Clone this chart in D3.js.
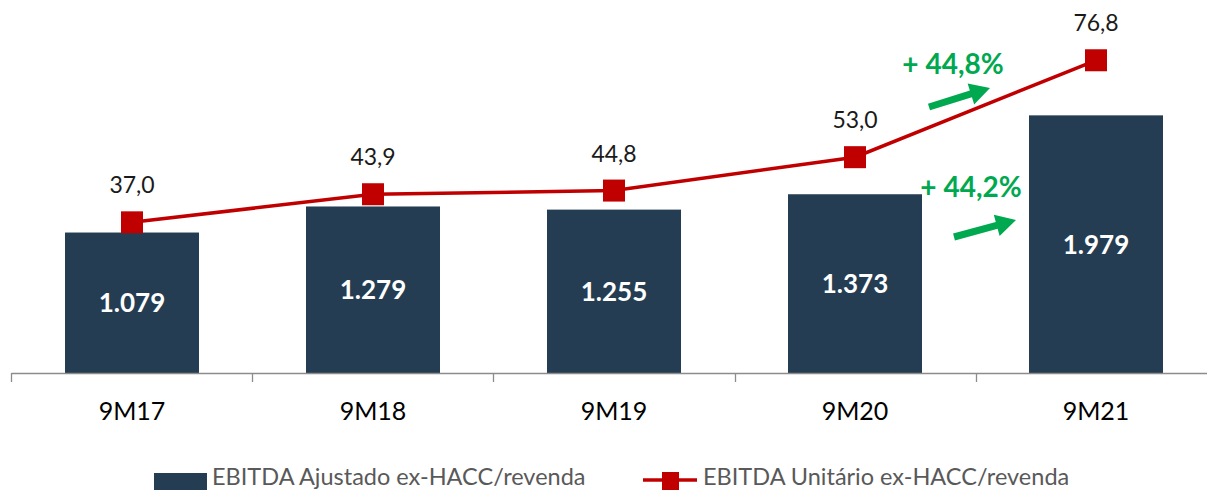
<!DOCTYPE html>
<html>
<head>
<meta charset="utf-8">
<script src="https://cdn.jsdelivr.net/npm/d3@7"></script>
<style>
  html, body { margin: 0; padding: 0; background: #fff; }
  svg { display: block; }
  text { font-family: Lato, "Open Sans", sans-serif; }
</style>
</head>
<body>
<svg id="chart" width="1207" height="490"></svg>
<script>
const categories = ["9M17", "9M18", "9M19", "9M20", "9M21"];
const barValues = [1079, 1279, 1255, 1373, 1979];
const barLabels = ["1.079", "1.279", "1.255", "1.373", "1.979"];
const lineValues = [37.0, 43.9, 44.8, 53.0, 76.8];
const lineLabels = ["37,0", "43,9", "44,8", "53,0", "76,8"];
const seriesNames = ["EBITDA Ajustado ex-HACC/revenda", "EBITDA Unitário ex-HACC/revenda"];
const growthLabels = ["+ 44,8%", "+ 44,2%"];

const barColor = "#243D52";
const lineColor = "#C00000";
const green = "#00A84F";

const svg = d3.select("#chart");
const baseY = 373;

const x = d3.scaleBand().domain(categories).range([11.5, 1216.5])
  .paddingInner(0.444).paddingOuter(0.222);
const yBar = d3.scaleLinear().domain([0, 2865]).range([baseY, 0]);
const yLine = d3.scaleLinear().domain([0, 91.6]).range([baseY, 0]);

// Bars
svg.append("g").selectAll("rect").data(categories).join("rect")
  .attr("x", d => x(d))
  .attr("width", x.bandwidth())
  .attr("y", (d, i) => yBar(barValues[i]))
  .attr("height", (d, i) => baseY - yBar(barValues[i]))
  .attr("fill", barColor);

// Bar labels
svg.append("g").selectAll("text").data(categories).join("text")
  .attr("x", d => x(d) + x.bandwidth() / 2)
  .attr("y", (d, i) => (yBar(barValues[i]) + baseY) / 2)
  .attr("dy", "0.36em")
  .attr("text-anchor", "middle")
  .attr("fill", "#fff")
  .attr("font-weight", "bold")
  .attr("font-size", 26)
  .text((d, i) => barLabels[i]);

// Axis
const axis = d3.axisBottom(x).tickSize(0).tickPadding(29);
const gAxis = svg.append("g").attr("transform", `translate(0,${baseY})`).call(axis);
gAxis.select(".domain").remove();
gAxis.selectAll("text").attr("font-size", 25).attr("fill", "#000")
  .style("font-family", "Lato, 'Open Sans', sans-serif");
gAxis.append("line").attr("x1", 11.5).attr("x2", 1207).attr("y1", 0.5).attr("y2", 0.5)
  .attr("stroke", "#8c8c8c").attr("stroke-width", 1.3);
const step = x.step();
const bounds = categories.map(d => x(d) - (step - x.bandwidth()) / 2);
bounds.push(bounds[bounds.length - 1] + step);
gAxis.selectAll("line.tk").data(bounds).join("line").attr("class", "tk")
  .attr("x1", d => Math.round(d) + 0.5).attr("x2", d => Math.round(d) + 0.5)
  .attr("y1", 0).attr("y2", 9)
  .attr("stroke", "#8c8c8c").attr("stroke-width", 1.3);

// Line
const pts = categories.map((d, i) => [x(d) + x.bandwidth() / 2, yLine(lineValues[i])]);
svg.append("path").datum(pts)
  .attr("d", d3.line())
  .attr("fill", "none").attr("stroke", lineColor).attr("stroke-width", 3.5);
const ms = 22;
svg.append("g").selectAll("rect").data(pts).join("rect")
  .attr("x", d => d[0] - ms / 2).attr("y", d => d[1] - ms / 2)
  .attr("width", ms).attr("height", ms).attr("fill", lineColor);
svg.append("g").selectAll("text").data(pts).join("text")
  .attr("x", d => d[0]).attr("y", d => d[1] - 29)
  .attr("text-anchor", "middle").attr("font-size", 23).attr("fill", "#1a1a1a")
  .text((d, i) => lineLabels[i]);

// Growth annotations
function arrow(x1, y1, x2, y2) {
  const ang = Math.atan2(y2 - y1, x2 - x1);
  const hl = 20, hw = 11, sw = 3.5;
  const bx = x2 - hl * Math.cos(ang), by = y2 - hl * Math.sin(ang);
  const nx = -Math.sin(ang), ny = Math.cos(ang);
  const p = [
    [x1 + nx * sw, y1 + ny * sw],
    [bx + nx * sw, by + ny * sw],
    [bx + nx * hw, by + ny * hw],
    [x2, y2],
    [bx - nx * hw, by - ny * hw],
    [bx - nx * sw, by - ny * sw],
    [x1 - nx * sw, y1 - ny * sw]
  ];
  svg.append("path").attr("d", "M" + p.map(q => q.join(",")).join("L") + "Z").attr("fill", green);
}
svg.append("text").attr("x", 953).attr("y", 74).attr("text-anchor", "middle")
  .attr("font-size", 28).attr("font-weight", "bold").attr("fill", green).text(growthLabels[0]);
arrow(929, 107, 990, 88);
svg.append("text").attr("x", 971).attr("y", 197).attr("text-anchor", "middle")
  .attr("font-size", 28).attr("font-weight", "bold").attr("fill", green).text(growthLabels[1]);
arrow(954, 237, 1016, 220);

// Legend
const lg = svg.append("g");
lg.append("rect").attr("x", 154).attr("y", 473).attr("width", 53).attr("height", 17).attr("fill", barColor);
lg.append("text").attr("x", 212).attr("y", 485).attr("font-size", 23.5).attr("fill", "#595959").text(seriesNames[0]);
lg.append("line").attr("x1", 643).attr("x2", 697).attr("y1", 480).attr("y2", 480)
  .attr("stroke", lineColor).attr("stroke-width", 3.5);
lg.append("rect").attr("x", 662).attr("y", 472).attr("width", 17).attr("height", 18).attr("fill", lineColor);
lg.append("text").attr("x", 703).attr("y", 485).attr("font-size", 23.5).attr("fill", "#595959").text(seriesNames[1]);
</script>
</body>
</html>
